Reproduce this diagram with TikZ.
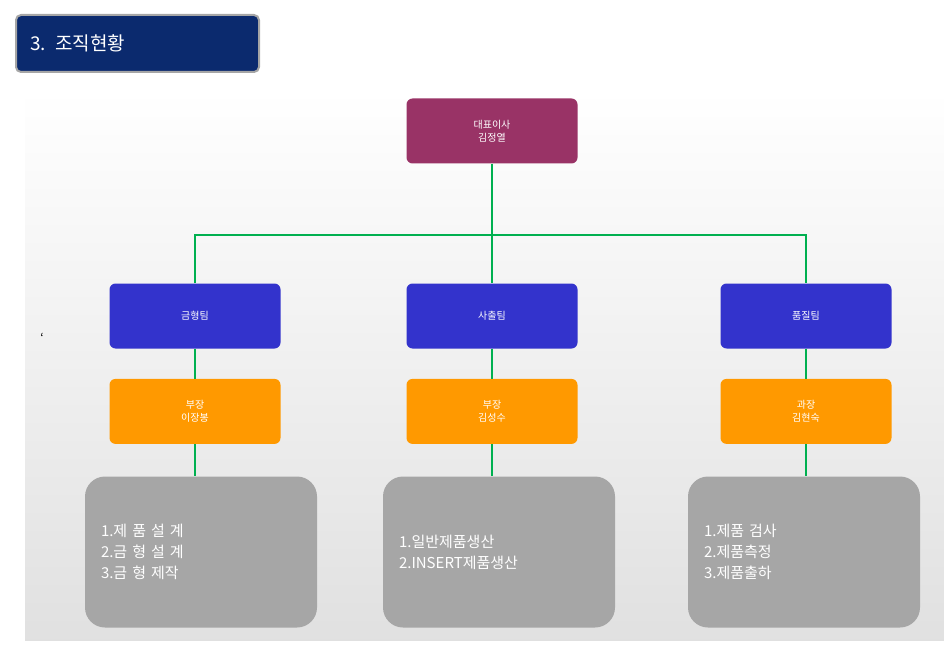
\documentclass[tikz,border=0pt]{standalone}
\usepackage{fontspec}
\setmainfont{Noto Sans CJK KR}
\usetikzlibrary{positioning}
\definecolor{ceo}{HTML}{993366}
\definecolor{team}{HTML}{3333CC}
\definecolor{chief}{HTML}{FF9900}
\definecolor{task}{HTML}{A6A6A6}
\definecolor{link}{HTML}{00B050}
\definecolor{navy}{HTML}{0B2A6E}
\tikzset{
  box/.style={rounded corners=6pt, minimum width=171pt, minimum height=65pt, text=white, font=\fontsize{10}{13}\selectfont, align=center},
  ceobox/.style={box, fill=ceo},
  teambox/.style={box, fill=team},
  chiefbox/.style={box, fill=chief},
  taskbox/.style={rounded corners=20pt, fill=task, minimum width=232pt, minimum height=151pt, text=white, font=\fontsize{15}{21}\selectfont, align=left, text width=200pt},
  wire/.style={link, line width=2.5pt}
}
\begin{document}
\begin{tikzpicture}[x=1pt,y=-1pt]
  \useasboundingbox (0,0) rectangle (944,652);
  % 배경
  \shade[top color=white, bottom color=black!12] (25,90) rectangle (944,640);
  % 제목
  \node[draw=black!35, line width=2pt, fill=navy, rounded corners=5pt, minimum width=243pt, minimum height=57pt, text=white, font=\fontsize{19}{22}\selectfont, anchor=north west, text width=215pt] (title) at (15,14) {3. 조직현황};
  % 대표
  \node[ceobox] (ceo) at (492,131) {대표이사\\김정열};
  % 팀
  \node[teambox] (mold) at (195,316) {금형팀};
  \node[teambox] (inject) at (492,316) {사출팀};
  \node[teambox] (quality) at (806,316) {품질팀};
  % 책임자
  \node[chiefbox, below=30pt of mold] (moldchief) {부장\\이장봉};
  \node[chiefbox, below=30pt of inject] (injectchief) {부장\\김성수};
  \node[chiefbox, below=30pt of quality] (qualitychief) {과장\\김현숙};
  % 업무
  \node[taskbox] (moldtask) at (201,552) {1.제 품 설 계\\2.금 형 설 계\\3.금 형 제작};
  \node[taskbox] (injecttask) at (499,552) {1.일반제품생산\\2.INSERT제품생산};
  \node[taskbox] (qualitytask) at (804,552) {1.제품 검사\\2.제품측정\\3.제품출하};
  \node[font=\large] (tick) at (42,338) {`};
  % 연결선
  \coordinate (bus) at (492,235);
  \draw[wire] (ceo.south) -- (bus);
  \draw[wire] (mold.north) |- (bus) -| (quality.north);
  \draw[wire] (bus) -- (inject.north);
  \foreach \t in {mold,inject,quality}{
    \draw[wire] (\t.south) -- (\t chief.north);
    \draw[wire] (\t chief.south) -- (\t chief.south |- \t task.north);
  }
\end{tikzpicture}
\end{document}
